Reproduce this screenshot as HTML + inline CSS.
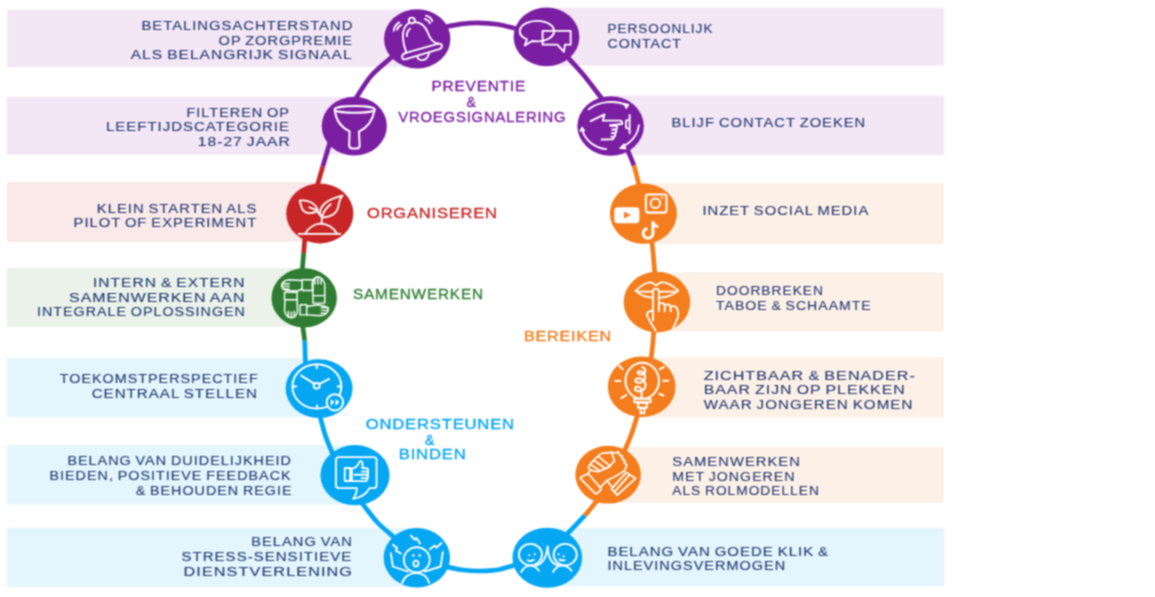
<!DOCTYPE html>
<html lang="nl"><head><meta charset="utf-8"><title>Infographic jongeren en schulden</title>
<style>
html,body{margin:0;padding:0;background:#fff}
body{width:1155px;height:597px;overflow:hidden;font-family:"Liberation Sans",sans-serif}
svg{display:block}
.t text{font-family:"Liberation Sans",sans-serif;font-size:12.3px;fill:#243a72;stroke:#243a72;stroke-width:.1px;word-spacing:-1px}
.c text{font-family:"Liberation Sans",sans-serif;font-size:14px;stroke-width:.3px;stroke-linejoin:round}
.ring path{fill:none;stroke-width:4.7}
.i{fill:none;stroke:#fff;stroke-linecap:round;stroke-linejoin:round}
.i .w{fill:#fff;stroke:none}
</style></head><body>
<svg width="1155" height="597" viewBox="0 0 1155 597" role="img" aria-label="Infographic">
<defs><filter id="soft" x="0" y="0" width="1155" height="597" filterUnits="userSpaceOnUse" color-interpolation-filters="sRGB"><feConvolveMatrix order="3" kernelMatrix="1 2 1 2 4 2 1 2 1" divisor="16" edgeMode="duplicate" preserveAlpha="false"/></filter></defs>
<rect width="1155" height="597" fill="#fff"/>
<g filter="url(#soft)">
<rect width="1155" height="597" fill="#fff"/>
<g class="bands">
<rect x="7.3" y="9.6" width="409.7" height="57.5" fill="#f3e6f5"/>
<rect x="7" y="96.7" width="347" height="57.8" fill="#f3e6f5"/>
<rect x="7" y="182.2" width="313" height="59.6" fill="#f9e9e9"/>
<rect x="7" y="268" width="297" height="58.5" fill="#eaf2e9"/>
<rect x="7" y="358.3" width="312" height="58.6" fill="#e3f5fd"/>
<rect x="7" y="445.2" width="348" height="59.1" fill="#e3f5fd"/>
<rect x="7" y="528" width="410" height="58.8" fill="#e3f5fd"/>
<rect x="546" y="8" width="398" height="57.6" fill="#f3e6f5"/>
<rect x="611" y="95.5" width="333" height="59.5" fill="#f3e6f5"/>
<rect x="643" y="183.4" width="301" height="60.8" fill="#fdf1e7"/>
<rect x="657" y="272.4" width="287" height="59" fill="#fdf1e7"/>
<rect x="642" y="357.3" width="302" height="60.3" fill="#fdf1e7"/>
<rect x="608" y="447" width="336" height="55.8" fill="#fdf1e7"/>
<rect x="547" y="528" width="397" height="58.2" fill="#e3f5fd"/>
</g>
<g class="ring">
<path d="M440.71 27.64C442.02 27.41 444.05 27.04 447.6 26.4C451.15 25.76 456.98 24.4 462 23.8C467.02 23.2 471.87 22.73 477.7 22.8C483.53 22.87 490.72 23.25 497 24.2C503.28 25.15 511.2 27.52 515.4 28.5C519.6 29.48 520.92 29.79 522.22 30.09" stroke="#7b1fa2"/>
<path d="M564.23 53.39C565.12 54.38 565.67 55 568.9 58.6C572.13 62.2 578.35 68.63 583.6 75C588.85 81.37 596.89 92.24 600.4 96.8C603.91 101.36 603.86 101.29 604.67 102.34" stroke="#7b1fa2"/>
<path d="M626.17 146.41C626.67 147.65 627.51 149.72 628.8 152.9C630.09 156.08 632.25 160.42 633.9 165.5" stroke="#7b1fa2"/>
<path d="M633.9 165.5C635.55 170.58 637.6 179.29 638.7 183.4C639.8 187.51 640.17 188.87 640.51 190.16" stroke="#f47d1d"/>
<path d="M651.36 236.74C651.5 238.07 651.78 240.66 652.1 243.7C652.42 246.74 652.88 250.32 653.3 255C653.72 259.68 654.29 267.84 654.6 271.8C654.91 275.76 655.04 277.45 655.14 278.78" stroke="#f47d1d"/>
<path d="M654.25 325.42C654.15 326.75 653.96 329.14 653.7 332.4C653.44 335.66 653.1 340.93 652.7 345C652.3 349.07 651.67 353.67 651.3 356.8C650.93 359.93 650.63 362.43 650.48 363.75" stroke="#f47d1d"/>
<path d="M639.15 410.34C638.74 411.61 638.28 413.06 637 417C635.72 420.94 633.42 428.75 631.5 434C629.58 439.25 626.95 445.01 625.5 448.5C624.05 451.99 623.33 453.74 622.82 454.97" stroke="#f47d1d"/>
<path d="M600.45 496.6C599.61 497.63 598.63 498.82 596 502C593.37 505.18 589.37 510.53 584.7 515.7" stroke="#f47d1d"/>
<path d="M584.7 515.7C580.03 520.87 571.59 529.28 568 533C564.41 536.72 564.06 537.08 563.14 538.04" stroke="#05a6f2"/>
<path d="M519.44 563.82C518.16 564.18 516.27 564.7 512.7 565.7C509.13 566.7 503.45 568.92 498 569.8C492.55 570.68 485.83 570.97 480 571C474.17 571.03 468.18 570.6 463 570C457.82 569.4 452.4 568.04 448.9 567.4C445.4 566.76 443.33 566.37 442.02 566.13" stroke="#05a6f2"/>
<path d="M397.09 540.2C396.1 539.3 395.25 538.53 391.9 535.5C388.55 532.47 381.7 527.02 377 522C372.3 516.98 366.65 509.08 363.7 505.4C360.75 501.72 360.16 500.98 359.32 499.94" stroke="#05a6f2"/>
<path d="M333.65 456.62C333.16 455.38 332.51 453.7 331.1 450.1C329.69 446.5 326.98 440.37 325.2 435C323.42 429.63 321.52 421.87 320.4 417.9C319.28 413.93 318.87 412.44 318.51 411.16" stroke="#05a6f2"/>
<path d="M305.55 367.1C305.5 365.76 305.46 364.53 305.3 360.1C305.14 355.67 305 345.95 304.6 340.5" stroke="#05a6f2"/>
<path d="M304.6 340.5C304.2 335.05 303.33 330.74 302.9 327.4C302.47 324.06 302.17 321.78 302 320.46" stroke="#2e7d32"/>
<path d="M301.81 275.38C301.92 274.05 302.09 272.13 302.4 268.4C302.71 264.67 303.35 257.25 303.7 253" stroke="#2e7d32"/>
<path d="M303.7 253C304.05 248.75 304.27 245.75 304.5 242.9C304.73 240.05 304.95 237.25 305.05 235.92" stroke="#c82626"/>
<path d="M315.97 190.13C316.34 188.85 316.76 187.37 317.9 183.4C319.04 179.43 321.02 172.37 322.8 166.3" stroke="#c82626"/>
<path d="M322.8 166.3C324.58 160.23 327.3 151.33 328.6 147C329.9 142.67 330.23 141.57 330.61 140.3" stroke="#7b1fa2"/>
<path d="M352.97 102.59C353.72 101.49 353.9 101.23 356.9 96.8C359.9 92.37 365.57 82.3 371 76C376.43 69.7 385.56 62.62 389.5 59C393.44 55.38 393.67 55.17 394.65 54.26" stroke="#7b1fa2"/>
</g>
<g class="circles">
<ellipse cx="417.2" cy="38.8" rx="33.2" ry="29.6" fill="#7b1fa2"/>
<ellipse cx="354.3" cy="126.1" rx="32.6" ry="29.4" fill="#7b1fa2"/>
<ellipse cx="319.8" cy="213.4" rx="33.6" ry="30" fill="#c82626"/>
<ellipse cx="304.2" cy="297.9" rx="32.7" ry="29.6" fill="#2e7d32"/>
<ellipse cx="319.1" cy="388.6" rx="33.5" ry="29.4" fill="#05a6f2"/>
<ellipse cx="355" cy="475.2" rx="34.6" ry="30.1" fill="#05a6f2"/>
<ellipse cx="416.8" cy="557.7" rx="33.2" ry="29.7" fill="#05a6f2"/>
<ellipse cx="546.5" cy="36.9" rx="32.9" ry="29.4" fill="#7b1fa2"/>
<ellipse cx="610.6" cy="126" rx="33.3" ry="29.7" fill="#7b1fa2"/>
<ellipse cx="643.4" cy="213.6" rx="33.5" ry="30.1" fill="#f47d1d"/>
<ellipse cx="656.9" cy="302.1" rx="33.3" ry="30.3" fill="#f47d1d"/>
<ellipse cx="641.7" cy="386.8" rx="33.9" ry="30.3" fill="#f47d1d"/>
<ellipse cx="608.1" cy="474.7" rx="32.8" ry="28.9" fill="#f47d1d"/>
<ellipse cx="547.3" cy="557.7" rx="34.9" ry="30" fill="#05a6f2"/>
</g>
<g class="i" transform="translate(377 14) scale(0.08375)" stroke-width="21.97"><ellipse cx="416" cy="77" rx="36" ry="34"/> <path d="M384 104C335 135 300 205 310 290C318 360 335 420 350 462"/> <path d="M450 96C535 100 585 160 610 230C635 300 680 350 737 355"/> <path d="M335 467L735 355Q772 350 775 382Q775 408 745 420L345 540Q305 550 300 515Q298 480 335 467Z"/> <path d="M482 510C490 570 600 570 620 470"/> <path d="M357 265C355 230 370 195 395 175"/> <path d="M200 200C205 160 230 120 265 100M240 190C245 165 265 140 290 130"/> <path d="M585 20C620 30 650 55 660 85M570 58C600 65 620 85 632 110"/></g>
<g class="i" transform="translate(314 101) scale(0.08375)" stroke-width="23.34"><ellipse cx="485" cy="100" rx="240" ry="40"/> <path d="M248 110C262 230 330 320 425 362L420 525Q420 565 455 567L510 567Q545 565 545 530L537 365C640 320 700 230 724 108"/></g>
<g class="i" transform="translate(280 188) scale(0.08375)" stroke-width="21.97"><path d="M235 150C330 135 420 180 452 262C400 320 300 310 265 250C250 215 245 180 235 150Z"/> <path d="M350 232L425 258L497 345"/> <path d="M745 90C620 120 480 180 478 300Q482 332 500 345C600 365 690 300 700 200C705 150 720 120 745 90Z"/> <path d="M605 195C550 240 515 290 503 345L495 425"/> <path d="M300 545C350 460 430 425 490 425C560 425 640 470 680 545"/> <path d="M222 548H720"/></g>
<g class="i" transform="translate(264 273) scale(0.08375)" stroke-width="17.16"><rect x="455" y="80" width="130" height="130"/> <path d="M455 90L300 80Q220 90 210 150Q215 200 300 210L400 215L455 190"/> <path d="M215 128H300M210 160H300M225 190H300"/> <rect x="245" y="230" width="150" height="90"/> <path d="M250 325L245 450Q260 530 330 535Q390 530 400 450L395 325"/> <path d="M290 460V530M325 465V535M360 460V525"/> <rect x="430" y="380" width="80" height="120"/> <path d="M510 400L650 380Q760 400 770 430Q760 500 680 510L510 500"/> <path d="M680 412H765M690 446H760M680 480H745"/> <rect x="585" y="270" width="140" height="90"/> <path d="M725 265L725 130Q700 50 640 45Q580 60 575 130L585 265"/> <path d="M610 60V130M645 50V130M680 65V130"/></g>
<g class="i" transform="translate(279 363) scale(0.08375)" stroke-width="23.34"><ellipse cx="452" cy="280" rx="292" ry="265"/> <ellipse cx="450" cy="273" rx="36" ry="34"/> <path d="M478 252L600 190M424 250L265 150"/> <path d="M450 28V62M700 280H738M455 508V542M168 280H206"/> <circle cx="667" cy="470" r="98" fill="#05a6f2"/> <path class="w" d="M618 430L662 470L618 510ZM676 430L722 470L676 510Z"/></g>
<g class="i" transform="translate(315 450) scale(0.08375)" stroke-width="21.97"><path d="M285 85H700Q735 85 735 120V420Q735 455 700 455H650C620 520 560 565 455 582C490 540 500 500 500 455H285Q250 455 250 420V120Q250 85 285 85Z"/> <rect x="355" y="215" width="65" height="155"/> <path d="M440 222C480 215 510 190 525 150Q535 125 555 135Q575 150 565 215L625 220Q640 240 630 258Q645 280 630 298Q640 320 625 335Q630 360 610 372L440 372Z"/> <path d="M560 258H630M470 295H630M555 335H625"/></g>
<g class="i" transform="translate(377 533) scale(0.08375)" stroke-width="21.97"><ellipse cx="475" cy="320" rx="155" ry="150"/> <circle class="w" cx="435" cy="270" r="15"/> <circle class="w" cx="510" cy="270" r="15"/> <ellipse cx="465" cy="365" rx="30" ry="35"/> <path d="M300 597C320 520 390 480 465 480C540 480 600 520 625 597"/> <path d="M370 460L190 400L165 240M570 460L760 400L785 230"/> <path d="M190 140L240 180L225 210L285 245M405 30L450 80L470 60L515 125M630 195L690 150L710 175L770 120"/></g>
<g class="i" transform="translate(507 12) scale(0.08375)" stroke-width="21.97"><path d="M238 328A205 122 0 1 1 300 346L212 400Z"/> <path d="M425 225H760V390H692L680 475L600 390H425Z"/></g>
<g class="i" transform="translate(571 101) scale(0.08375)" stroke-width="21.97"><path d="M210 100C330 0 540 -10 650 45"/> <path class="w" d="M615 18L700 38L660 100Z"/> <path d="M810 290C800 400 720 500 610 545"/> <path class="w" d="M635 500L570 570L665 580Z"/> <path d="M420 575C280 560 160 460 135 345"/> <path class="w" d="M95 365L132 300L175 360Z"/> <path d="M235 240L400 160L380 235H590Q620 250 610 275L470 290"/> <path d="M470 296H528Q550 298 550 318Q550 338 528 340H492M492 340H520Q542 342 542 362Q542 382 520 384H486M486 384H510Q530 386 530 405Q530 424 510 426H482M505 426Q520 442 498 458L365 460"/> <path d="M700 165V385M700 225L657 235V320L700 335"/></g>
<g class="i" transform="translate(603 188) scale(0.08375)" stroke-width="21.97"><rect class="w" x="135" y="230" width="300" height="190" rx="42"/> <path d="M250 285L335 322L250 365Z" fill="#f47d1d" stroke="none"/> <rect x="512" y="78" width="246" height="216" rx="28" stroke-width="24"/> <circle cx="626" cy="182" r="57" stroke-width="22"/> <circle class="w" cx="705" cy="117" r="12"/> <path d="M596 400V545A58 58 0 1 1 530 484" stroke-width="36" stroke-linecap="butt"/> <path d="M596 400C600 440 625 458 662 460" stroke-width="32" stroke-linecap="butt"/></g>
<g class="i" transform="translate(617 277) scale(0.08375)" stroke-width="21.97"><path d="M222 165C280 110 350 65 400 65C430 65 450 95 465 100C480 95 500 65 540 65C600 65 680 115 730 162"/> <path d="M222 165C290 225 360 245 425 247M505 247C590 245 670 215 730 162"/> <path d="M250 175H425M505 175H700"/> <path d="M430 520V172Q430 138 465 138Q500 138 500 172V405"/> <path d="M500 340Q500 310 535 312Q570 315 570 345V410M570 350Q572 325 605 328Q640 330 640 360V410M640 365Q645 345 680 348Q715 352 722 390C745 440 735 480 670 610"/> <path d="M430 400C395 405 355 420 357 450C370 500 420 570 460 640"/></g>
<g class="i" transform="translate(602 362) scale(0.08375)" stroke-width="24.03"><ellipse cx="480" cy="225" rx="200" ry="215"/> <rect x="385" y="440" width="195" height="42" rx="8"/> <rect x="430" y="485" width="105" height="60"/> <rect x="460" y="548" width="46" height="65"/> <path d="M480 60C540 90 520 145 470 150C420 155 410 112 450 110C505 112 535 185 495 230C460 260 395 250 398 215C400 190 450 190 480 210C545 255 520 325 480 340C440 355 392 350 395 320C398 290 440 290 462 312C482 340 470 400 470 438"/> <path d="M205 45L245 85M160 228H220M230 430L290 395M690 85L740 60M730 225H790M685 380L735 400"/></g>
<g class="i" transform="translate(578 450) scale(0.06702)" stroke-width="25.74"><path d="M55 400L130 362Q152 352 168 370L338 568Q352 590 332 606L285 645Q265 658 248 640L42 432Q28 412 55 400Z"/> <path d="M720 334L860 424L585 674L500 579Z"/> <path d="M545 625L770 368"/> <path d="M340 552L430 456L500 540M430 456Q560 400 690 312"/> <path d="M170 285Q140 250 175 225Q190 190 225 165Q250 120 295 100Q320 55 380 45L500 35L545 165Q500 200 470 252L300 322Q220 322 170 285Z"/> <path d="M200 225L310 300M250 160L400 272M310 100L470 232"/> <path d="M500 35L570 45L600 25L625 75L665 95L655 135L700 155L690 195L730 215L712 270L690 312"/> <path d="M150 355L185 300"/></g>
<g class="i" transform="translate(507 533) scale(0.08375)" stroke-width="21.97"><ellipse cx="280" cy="258" rx="138" ry="128"/> <ellipse cx="695" cy="258" rx="138" ry="128"/> <circle class="w" cx="265" cy="266" r="13"/> <circle class="w" cx="330" cy="255" r="13"/> <path d="M245 325Q285 345 320 320"/> <circle class="w" cx="615" cy="255" r="13"/> <circle class="w" cx="675" cy="280" r="13"/> <path d="M625 315Q655 335 690 325"/> <path d="M170 465C200 410 240 390 275 390C320 390 355 410 380 450"/> <path d="M550 465C580 410 620 390 660 390C700 390 740 410 770 450"/> <path d="M350 385C430 370 470 300 485 160C490 300 540 370 610 385"/></g>
<g class="t">
<text transform="translate(141.5 29.65) scale(1.203 1)" textLength="175.27" lengthAdjust="spacing">BETALINGSACHTERSTAND</text>
<text transform="translate(218.6 44.65) scale(1.183 1)" textLength="112.8" lengthAdjust="spacing">OP ZORGPREMIE</text>
<text transform="translate(130.7 59.05) scale(1.265 1)" textLength="174.57" lengthAdjust="spacing">ALS BELANGRIJK SIGNAAL</text>
<text transform="translate(186.5 116.75) scale(1.175 1)" textLength="87.25" lengthAdjust="spacing">FILTEREN OP</text>
<text transform="translate(106 131.35) scale(1.216 1)" textLength="150.44" lengthAdjust="spacing">LEEFTIJDSCATEGORIE</text>
<text transform="translate(197.8 145.95) scale(1.271 1)" textLength="72.4" lengthAdjust="spacing">18-27 JAAR</text>
<text transform="translate(96.8 212.95) scale(1.204 1)" textLength="132.52" lengthAdjust="spacing">KLEIN STARTEN ALS</text>
<text transform="translate(73.6 227.15) scale(1.200 1)" textLength="152.2" lengthAdjust="spacing">PILOT OF EXPERIMENT</text>
<text transform="translate(93 287.35) scale(1.264 1)" textLength="119.79" lengthAdjust="spacing">INTERN &amp; EXTERN</text>
<text transform="translate(69.1 301.95) scale(1.293 1)" textLength="135.59" lengthAdjust="spacing">SAMENWERKEN AAN</text>
<text transform="translate(37 316.45) scale(1.162 1)" textLength="178.9" lengthAdjust="spacing">INTEGRALE OPLOSSINGEN</text>
<text transform="translate(59.8 383.35) scale(1.166 1)" textLength="169.68" lengthAdjust="spacing">TOEKOMSTPERSPECTIEF</text>
<text transform="translate(91.7 397.55) scale(1.229 1)" textLength="134.47" lengthAdjust="spacing">CENTRAAL STELLEN</text>
<text transform="translate(67.4 465.45) scale(1.170 1)" textLength="191.04" lengthAdjust="spacing">BELANG VAN DUIDELIJKHEID</text>
<text transform="translate(49.5 480.05) scale(1.166 1)" textLength="206.73" lengthAdjust="spacing">BIEDEN, POSITIEVE FEEDBACK</text>
<text transform="translate(135.7 495.05) scale(1.163 1)" textLength="133.92" lengthAdjust="spacing">&amp; BEHOUDEN REGIE</text>
<text transform="translate(251.3 545.85) scale(1.193 1)" textLength="84.24" lengthAdjust="spacing">BELANG VAN</text>
<text transform="translate(181.5 560.95) scale(1.223 1)" textLength="138.85" lengthAdjust="spacing">STRESS-SENSITIEVE</text>
<text transform="translate(183.5 576.05) scale(1.320 1)" textLength="127.65" lengthAdjust="spacing">DIENSTVERLENING</text>
<text transform="translate(607.4 33.15) scale(1.104 1)" textLength="95.18" lengthAdjust="spacing">PERSOONLIJK</text>
<text transform="translate(607.4 47.65) scale(1.155 1)" textLength="63.73" lengthAdjust="spacing">CONTACT</text>
<text transform="translate(671.5 126.95) scale(1.198 1)" textLength="161.7" lengthAdjust="spacing">BLIJF CONTACT ZOEKEN</text>
<text transform="translate(702.4 215.15) scale(1.203 1)" textLength="137.89" lengthAdjust="spacing">INZET SOCIAL MEDIA</text>
<text transform="translate(716 295.15) scale(1.120 1)" textLength="95.52" lengthAdjust="spacing">DOORBREKEN</text>
<text transform="translate(716 309.75) scale(1.144 1)" textLength="135.27" lengthAdjust="spacing">TABOE &amp; SCHAAMTE</text>
<text transform="translate(703.7 379.85) scale(1.313 1)" textLength="160.78" lengthAdjust="spacing">ZICHTBAAR &amp; BENADER-</text>
<text transform="translate(703.7 394.45) scale(1.291 1)" textLength="155.73" lengthAdjust="spacing">BAAR ZIJN OP PLEKKEN</text>
<text transform="translate(703.7 409.05) scale(1.232 1)" textLength="169.34" lengthAdjust="spacing">WAAR JONGEREN KOMEN</text>
<text transform="translate(672.3 466.05) scale(1.204 1)" textLength="106.03" lengthAdjust="spacing">SAMENWERKEN</text>
<text transform="translate(672.3 480.65) scale(1.153 1)" textLength="106.04" lengthAdjust="spacing">MET JONGEREN</text>
<text transform="translate(672.3 495.05) scale(1.117 1)" textLength="131.16" lengthAdjust="spacing">ALS ROLMODELLEN</text>
<text transform="translate(607.4 556.05) scale(1.217 1)" textLength="181.33" lengthAdjust="spacing">BELANG VAN GOEDE KLIK &amp;</text>
<text transform="translate(607.4 570.45) scale(1.178 1)" textLength="150.96" lengthAdjust="spacing">INLEVINGSVERMOGEN</text>
</g>
<g class="c">
<text transform="translate(431.5 90.5) scale(1.100 1)" textLength="85.17" lengthAdjust="spacing" fill="#7b1fa2" stroke="#7b1fa2">PREVENTIE</text>
<text transform="translate(466.5 107)" fill="#7b1fa2" stroke="#7b1fa2">&amp;</text>
<text transform="translate(398.3 121.9) scale(1.061 1)" textLength="157.57" lengthAdjust="spacing" fill="#7b1fa2" stroke="#7b1fa2">VROEGSIGNALERING</text>
<text transform="translate(367 218.4) scale(1.179 1)" textLength="110.25" lengthAdjust="spacing" fill="#c82626" stroke="#c82626">ORGANISEREN</text>
<text transform="translate(353 299.3) scale(1.097 1)" textLength="118.53" lengthAdjust="spacing" fill="#2e7d32" stroke="#2e7d32">SAMENWERKEN</text>
<text transform="translate(524 340.7) scale(1.152 1)" textLength="75.66" lengthAdjust="spacing" fill="#f47d1d" stroke="#f47d1d">BEREIKEN</text>
<text transform="translate(365.7 429.2) scale(1.188 1)" textLength="124.87" lengthAdjust="spacing" fill="#05a6f2" stroke="#05a6f2">ONDERSTEUNEN</text>
<text transform="translate(425 445)" fill="#05a6f2" stroke="#05a6f2">&amp;</text>
<text transform="translate(398.8 459.3) scale(1.189 1)" textLength="56.26" lengthAdjust="spacing" fill="#05a6f2" stroke="#05a6f2">BINDEN</text>
</g>
</g>
</svg>
</body></html>
